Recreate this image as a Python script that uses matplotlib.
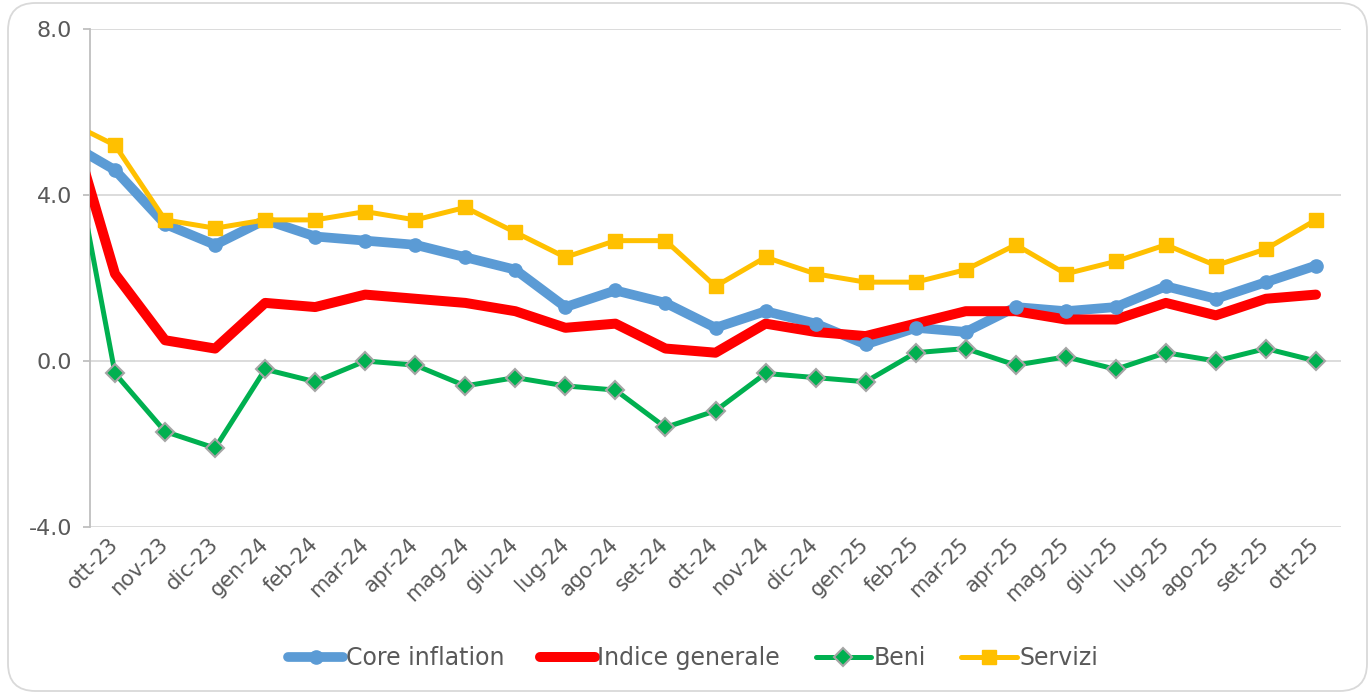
import matplotlib
matplotlib.use("Agg")
import matplotlib.pyplot as plt
import numpy as np
from matplotlib.lines import Line2D
from matplotlib.patches import FancyBboxPatch

plt.rcParams['font.family'] = ['DejaVu Sans']

# first entry (set-23) lies just outside the visible range; only its segment edge shows
months = ["set-23", "ott-23", "nov-23", "dic-23", "gen-24", "feb-24", "mar-24", "apr-24",
          "mag-24", "giu-24", "lug-24", "ago-24", "set-24", "ott-24", "nov-24", "dic-24",
          "gen-25", "feb-25", "mar-25", "apr-25", "mag-25", "giu-25", "lug-25", "ago-25",
          "set-25", "ott-25"]
core = [5.3, 4.6, 3.3, 2.8, 3.4, 3.0, 2.9, 2.8, 2.5, 2.2, 1.3, 1.7, 1.4, 0.8, 1.2, 0.9,
        0.4, 0.8, 0.7, 1.3, 1.2, 1.3, 1.8, 1.5, 1.9, 2.3]
generale = [6.2, 2.1, 0.5, 0.3, 1.4, 1.3, 1.6, 1.5, 1.4, 1.2, 0.8, 0.9, 0.3, 0.2, 0.9, 0.7,
            0.6, 0.9, 1.2, 1.2, 1.0, 1.0, 1.4, 1.1, 1.5, 1.6]
beni = [6.1, -0.3, -1.7, -2.1, -0.2, -0.5, 0.0, -0.1, -0.6, -0.4, -0.6, -0.7, -1.6, -1.2,
        -0.3, -0.4, -0.5, 0.2, 0.3, -0.1, 0.1, -0.2, 0.2, 0.0, 0.3, 0.0]
servizi = [5.8, 5.2, 3.4, 3.2, 3.4, 3.4, 3.6, 3.4, 3.7, 3.1, 2.5, 2.9, 2.9, 1.8, 2.5, 2.1,
           1.9, 1.9, 2.2, 2.8, 2.1, 2.4, 2.8, 2.3, 2.7, 3.4]
yticks = [-4.0, 0.0, 4.0, 8.0]

C_BLUE = "#5B9BD5"
C_RED = "#FF0000"
C_GREEN = "#00B050"
C_YELLOW = "#FFC000"
TXT = "#595959"

fig = plt.figure(figsize=(13.72, 6.93), dpi=100)
ax = fig.add_axes([90/1372, 1-527/693, (1341-90)/1372, (527-29)/693])

x = np.arange(len(months)) - 1

# lines
ax.plot(x, core, color=C_BLUE, lw=7, solid_capstyle='round', solid_joinstyle='round', zorder=3)
ax.plot(x, generale, color=C_RED, lw=7.2, solid_capstyle='round', solid_joinstyle='round', zorder=4)
ax.plot(x, beni, color=C_GREEN, lw=3.6, solid_joinstyle='round', zorder=5)
ax.plot(x, servizi, color=C_YELLOW, lw=3.6, solid_joinstyle='round', zorder=6)
# markers
ax.plot(x, core, ls='none', marker='o', ms=9.5, color=C_BLUE, zorder=7)
ax.plot(x, beni, ls='none', marker='D', ms=9, mfc=C_GREEN, mec="#A5A5A5", mew=1.5, zorder=8)
ax.plot(x, servizi, ls='none', marker='s', ms=10.5, color=C_YELLOW, zorder=9)

ax.set_xlim(-0.5, 24.5)
ax.set_ylim(-4, 8)
ax.set_yticks(yticks)
ax.set_yticklabels([f"{v:.1f}" for v in yticks])
ax.set_xticks(x[1:])
ax.set_xticklabels(months[1:], rotation=45, ha='right', va='center', rotation_mode='anchor')

ax.grid(axis='y', color="#D9D9D9", lw=1.3, zorder=0)
ax.set_axisbelow(True)
for s in ['top', 'right', 'bottom']:
    ax.spines[s].set_visible(False)
ax.spines['left'].set_color("#BFBFBF")
ax.spines['left'].set_linewidth(1.3)
ax.tick_params(axis='y', length=5, width=1.3, color="#BFBFBF", labelcolor=TXT, labelsize=16, pad=8)
ax.tick_params(axis='x', length=0, labelcolor=TXT, labelsize=15, pad=10)

handles = [
    Line2D([], [], color=C_BLUE, lw=7, marker='o', ms=9.5, solid_capstyle='round'),
    Line2D([], [], color=C_RED, lw=7.2, solid_capstyle='round'),
    Line2D([], [], color=C_GREEN, lw=3.6, marker='D', ms=9, mfc=C_GREEN, mec="#A5A5A5", mew=1.5,
           solid_capstyle='round'),
    Line2D([], [], color=C_YELLOW, lw=3.6, marker='s', ms=10.5, solid_capstyle='round'),
]
labels = ["Core inflation", "Indice generale", "Beni", "Servizi"]
leg = fig.legend(handles, labels, loc='center', bbox_to_anchor=(0.505, 1-658/693), ncol=4,
                 frameon=False, fontsize=17, handlelength=2.35, handletextpad=0.1,
                 columnspacing=1.5, labelcolor=TXT)

border = FancyBboxPatch((8/1372, 2/693), (1367-8)/1372, (690-2)/693,
                        boxstyle="round,pad=0,rounding_size=0.02",
                        transform=fig.transFigure, fill=False, ec="#D9D9D9", lw=1.3,
                        mutation_aspect=1372/693)
fig.patches.append(border)

fig.savefig("out.png", dpi=100, facecolor='white')
